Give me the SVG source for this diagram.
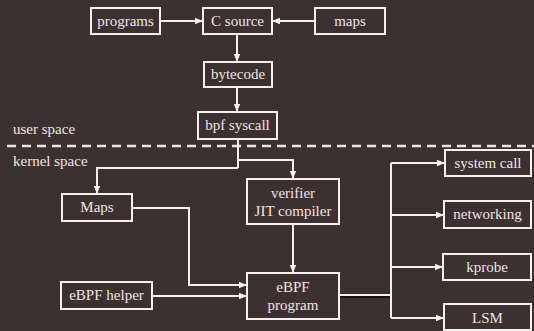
<svg xmlns="http://www.w3.org/2000/svg" width="534" height="331" viewBox="0 0 534 331">
  <defs>
    <marker id="arrow" viewBox="0 0 8 8" refX="8" refY="4" markerWidth="8" markerHeight="8" markerUnits="userSpaceOnUse" orient="auto">
      <path d="M0,0.8 L8,4 L0,7.2 Z" fill="#f4f1ef"/>
    </marker>
    <style>
      .box { fill: none; stroke: #f4f1ef; stroke-width: 2; }
      text { font-family: 'Liberation Serif', 'DejaVu Serif', serif; font-size: 15px; fill: #ebe6e4; }
      .lbl { text-anchor: middle; }
      .wire { fill: none; stroke: #f4f1ef; stroke-width: 2; }
      .arr { marker-end: url(#arrow); }
    </style>
  </defs>

  <rect width="534" height="331" fill="#3d3031"/>

  <!-- user / kernel boundary -->
  <line x1="7" y1="146" x2="534" y2="146" stroke="#ebe6e4" stroke-width="2.5" stroke-dasharray="9 6"/>
  <text x="13" y="134">user space</text>
  <text x="13" y="166">kernel space</text>

  <!-- connectors -->
  <g id="connectors">
    <path class="wire arr" d="M160,21 H203"/>
    <path class="wire arr" d="M315,21 H272"/>
    <path class="wire arr" d="M237,34 V62"/>
    <path class="wire arr" d="M237,87 V112"/>
    <path class="wire" d="M238,139 V168"/>
    <path class="wire arr" d="M238,160 H293 V179"/>
    <path class="wire arr" d="M238,168 H97 V194"/>
    <path class="wire arr" d="M132,208 H189 V285 H247"/>
    <path class="wire arr" d="M152,296 H247"/>
    <path class="wire arr" d="M293,224 V273"/>
    <path d="M339,297 H391" fill="none" stroke="#1a1213" stroke-width="2"/>
    <path class="wire" d="M339,295 H391"/>
    <path class="wire" d="M391,163 V318"/>
    <path class="wire arr" d="M391,163 H445"/>
    <path class="wire arr" d="M391,215 H444"/>
    <path class="wire arr" d="M391,267 H443"/>
    <path class="wire arr" d="M391,318 H444"/>
  </g>

  <!-- nodes -->
  <g id="programs">
    <rect class="box" x="91" y="8" width="69" height="26"/>
    <text class="lbl" x="125.5" y="26">programs</text>
  </g>
  <g id="c-source">
    <rect class="box" x="203" y="8" width="69" height="26"/>
    <text class="lbl" x="237.5" y="26">C source</text>
  </g>
  <g id="maps">
    <rect class="box" x="315" y="8" width="70" height="26"/>
    <text class="lbl" x="350" y="26">maps</text>
  </g>
  <g id="bytecode">
    <rect class="box" x="204" y="62" width="68" height="25"/>
    <text class="lbl" x="238" y="79">bytecode</text>
  </g>
  <g id="bpf-syscall">
    <rect class="box" x="198" y="112" width="79" height="27"/>
    <text class="lbl" x="237.5" y="130">bpf syscall</text>
  </g>
  <g id="kernel-maps">
    <rect class="box" x="62" y="194" width="70" height="27"/>
    <text class="lbl" x="97" y="212">Maps</text>
  </g>
  <g id="verifier">
    <rect class="box" x="247" y="179" width="92" height="45"/>
    <text class="lbl" x="293" y="198">verifier</text>
    <text class="lbl" x="293" y="216">JIT compiler</text>
  </g>
  <g id="ebpf-helper">
    <rect class="box" x="61" y="282" width="91" height="27"/>
    <text class="lbl" x="106.5" y="300">eBPF helper</text>
  </g>
  <g id="ebpf-program">
    <rect class="box" x="247" y="273" width="92" height="46"/>
    <text class="lbl" x="293" y="292">eBPF</text>
    <text class="lbl" x="293" y="310">program</text>
  </g>
  <g id="system-call">
    <rect class="box" x="445" y="150" width="86" height="26"/>
    <text class="lbl" x="488" y="168">system call</text>
  </g>
  <g id="networking">
    <rect class="box" x="444" y="201" width="87" height="27"/>
    <text class="lbl" x="487.5" y="219">networking</text>
  </g>
  <g id="kprobe">
    <rect class="box" x="443" y="254" width="88" height="26"/>
    <text class="lbl" x="487" y="272">kprobe</text>
  </g>
  <g id="lsm">
    <rect class="box" x="444" y="304" width="87" height="26"/>
    <text class="lbl" x="487.5" y="323">LSM</text>
  </g>
</svg>
